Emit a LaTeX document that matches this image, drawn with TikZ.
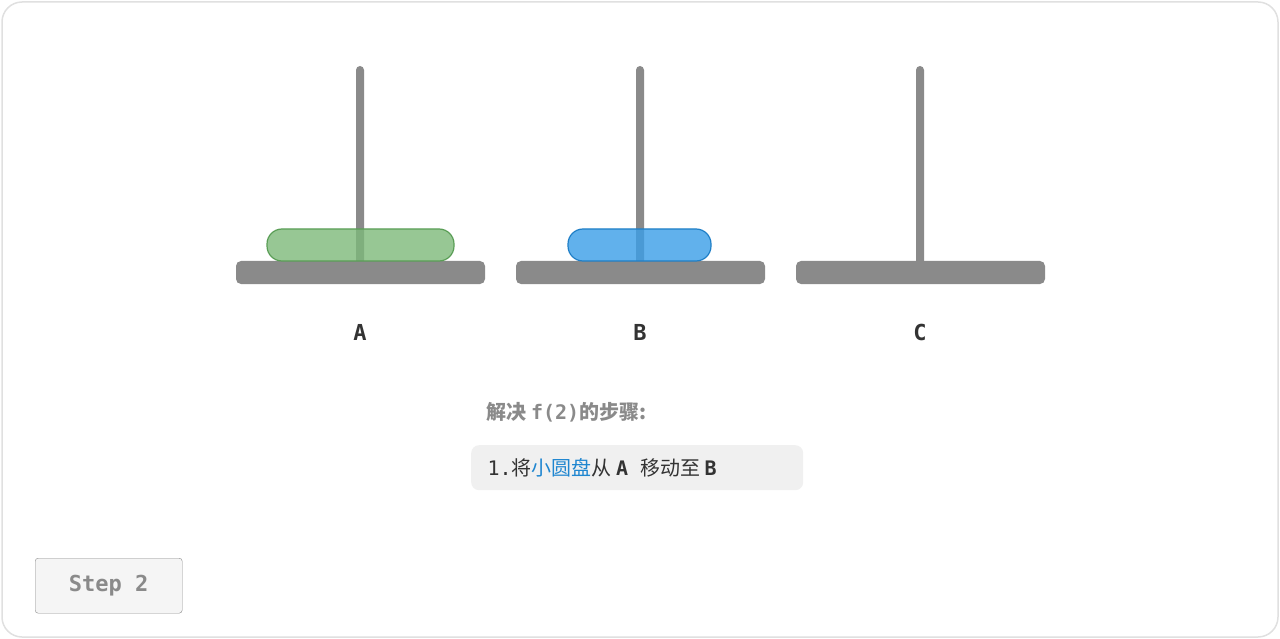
\documentclass[tikz,border=0pt]{standalone}
\usepackage{fontspec}
\setmonofont{DejaVu Sans Mono}
\newfontfamily\cjk{Noto Sans CJK SC}
\begin{document}
\begin{tikzpicture}[x=1pt,y=-1pt,
  rod/.style={draw=none,fill=rodgray,rounded corners=4},
  base/.style={draw=none,fill=rodgray,rounded corners=5},
  disc/.style={rounded corners=15,line width=1.2pt,fill opacity=0.8},
  lbl/.style={font=\ttfamily\bfseries\fontsize{22}{24}\selectfont,text=labelgray}]
\definecolor{rodgray}{HTML}{8A8A8A}
\definecolor{labelgray}{HTML}{333333}
\definecolor{gfill}{HTML}{7DB97A}
\definecolor{gdraw}{HTML}{5A9E56}
\definecolor{bfill}{HTML}{3A9EE8}
\definecolor{bdraw}{HTML}{1F7FC7}
\definecolor{blue2}{HTML}{1F86D0}
\useasboundingbox (0,0) rectangle (1280,639);
\draw[draw=black!12,line width=1.5pt,fill=white,rounded corners=20] (2,2) rectangle (1278,637);
\foreach \x/\n in {360/A,640/B,920/C}{
  \fill[rod] (\x-4,66) rectangle (\x+4,268);
  \fill[base] (\x-124,261) rectangle (\x+125,284);
  \node[lbl] (l\n) at (\x,332) {\n};
}
\draw[disc,draw=gdraw,fill=gfill] (267,229) rectangle (454,261);
\draw[disc,draw=bdraw,fill=bfill] (568,229) rectangle (711,261);
\node[font=\bfseries\fontsize{20}{24}\selectfont,text=rodgray,anchor=west] (title) at (483,412)
  {\cjk 解决 \ttfamily\bfseries f(2)\cjk\bfseries 的步骤:};
\node[fill=black!6,rounded corners=8,minimum width=332,minimum height=45,anchor=north west] (box) at (471,445) {};
\node[anchor=west,font=\fontsize{20}{24}\selectfont,text=labelgray] (step1) at (484,467.5)
  {\ttfamily 1.\cjk 将\textcolor{blue2}{小圆盘}从 \ttfamily\bfseries A \cjk\mdseries 移动至 \ttfamily\bfseries B};
\node[draw=black!45,fill=black!4,rounded corners=3,minimum width=147,minimum height=55,anchor=north west,
  font=\ttfamily\bfseries\fontsize{22}{24}\selectfont,text=rodgray] (stepbox) at (35,558) {Step 2};
\end{tikzpicture}
\end{document}
